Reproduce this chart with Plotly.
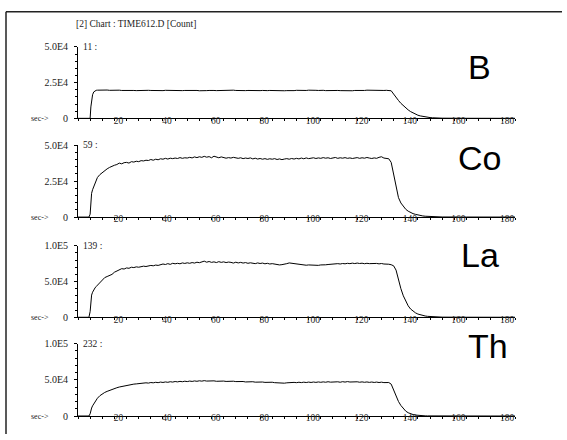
import plotly.graph_objects as go

# ---- data ----
time_s = [0, 4.5, 5.0, 5.3, 5.6, 6.0, 6.5, 7.0, 7.5,
          8, 9, 10, 11, 12, 13, 14, 15, 16, 17,
          18, 19, 20, 21, 22, 23, 24, 25, 26, 27,
          28, 29, 30, 31, 32, 33, 34, 35, 36, 37,
          38, 39, 40, 41, 42, 43, 44, 45, 46, 47,
          48, 49, 50, 51, 52, 53, 54, 55, 56, 57,
          58, 59, 60, 61, 62, 63, 64, 65, 66, 67,
          68, 69, 70, 71, 72, 73, 74, 75, 76, 77,
          78, 79, 80, 81, 82, 83, 84, 85, 86, 87,
          88, 89, 90, 91, 92, 93, 94, 95, 96, 97,
          98, 99, 100, 101, 102, 103, 104, 105, 106, 107,
          108, 109, 110, 111, 112, 113, 114, 115, 116, 117,
          118, 119, 120, 121, 122, 123, 124, 125, 126, 127,
          128, 129, 130, 131, 132, 133, 134, 135, 136, 137,
          138, 139, 140, 141, 142, 143, 144, 145, 146, 147,
          148, 149, 150,
          160, 170, 180]

B_counts = [0, 0, 0, 8000, 13000, 16500, 18500, 19300, 19600,
            19700, 19800, 19900, 19700, 19800, 19600, 19700, 19500, 19600, 19700,
            19500, 19600, 19500, 19400, 19600, 19500, 19400, 19500, 19600, 19400,
            19500, 19600, 19500, 19400, 19500, 19600, 19500, 19400, 19600, 19500,
            19700, 19500, 19400, 19600, 19500, 19400, 19500, 19600, 19400, 19500,
            19600, 19500, 19300, 19500, 19600, 19400, 19500, 19700, 19500, 19400,
            19500, 19600, 19400, 19500, 19600, 19500, 19700, 19500, 19400, 19500,
            19600, 19400, 19500, 19400, 19600, 19500, 19300, 19400, 19500, 19300,
            19400, 19500, 19400, 19300, 19500, 19400, 19200, 19300, 19400, 19300,
            19500, 19400, 19600, 19500, 19400, 19600, 19500, 19700, 19500, 19400,
            19600, 19500, 19700, 19600, 19400, 19500, 19600, 19800, 19600, 19500,
            19400, 19300, 19200, 19300, 19400, 19300, 19500, 19400, 19500, 19600,
            19500, 19700, 19600, 19800, 19600, 19500, 19700, 19600, 19500, 19600,
            19500, 19300, 17000, 14500, 12500, 10500, 8800, 7200, 5900, 4700,
            3700, 2900, 2200, 1700, 1300, 1000, 750, 550, 400, 300,
            220, 160, 120,
            40, 20, 10]

Co_counts = [0, 0, 2000, 13000, 16500, 19000, 21500, 24000, 26000,
             27500, 29500, 31000, 32500, 33500, 34500, 35500, 36000, 36500, 37500,
             37000, 37800, 38000, 37500, 38500, 38200, 38800, 38500, 39200, 39000,
             39500, 39300, 40000, 39500, 40200, 39800, 40500, 40200, 40800, 40300,
             40900, 40600, 41000, 40700, 41300, 40800, 41200, 41000, 41500, 41100,
             41800, 41300, 41900, 41500, 42200, 41600, 42000, 41200, 42300, 41600,
             41200, 41800, 41400, 40900, 41300, 41000, 41500, 41100, 40800, 41200,
             40600, 41000, 40700, 41100, 40400, 40900, 40300, 40700, 40200, 40600,
             40100, 40500, 40200, 40600, 40000, 40400, 39900, 40300, 40600, 40200,
             40700, 40300, 40800, 40400, 41000, 40500, 41100, 40600, 40900, 41200,
             40700, 41100, 40800, 41300, 40900, 41200, 40700, 41100, 41400, 40800,
             41200, 40900, 41300, 40800, 41100, 40700, 41000, 41300, 40800, 41200,
             40900, 41400, 41000, 40700, 41100, 40800, 41500, 41900, 41000, 40800,
             40500, 38000, 29000, 21000, 13500, 9800, 7200, 5400, 4100, 3100,
             2400, 1900, 1400, 1050, 800, 600, 450, 340, 260, 200,
             150, 110, 80,
             30, 15, 10]

La_counts = [0, 0, 8000, 26000, 31000, 35000, 38500, 41000, 43000,
             45000, 49000, 53000, 55500, 57000, 58000, 60000, 63000, 65000, 66500,
             68000, 67500, 69000, 68500, 70000, 69500, 70500, 70000, 71000, 71500,
             71000, 72000, 72500, 72000, 73000, 72500, 73500, 74500, 73800, 75000,
             74000, 75500, 74800, 75500, 74800, 76000, 75300, 76200, 75500, 76500,
             75800, 77000, 76300, 77500, 78500, 77000, 78000, 76800, 77500, 76500,
             77800, 76800, 77500, 76500, 77200, 76800, 75800, 77000, 76000, 76800,
             75800, 76500, 75500, 76200, 75800, 75000, 76000, 75200, 75800, 74800,
             75500, 74500, 75000, 74200, 73500, 73200, 73600, 74000, 75000, 76000,
             75500, 75000, 74500, 74000, 73500, 73200, 72800, 73200, 72800, 72500,
             73000, 72600, 73200, 72800, 73400, 73800, 74300, 74800, 74300, 75000,
             74500, 75200, 74800, 75500, 75000, 75700, 75100, 75800, 75200, 75600,
             74900, 75500, 75000, 75400, 74800, 75300, 74700, 75200, 74500, 74800,
             74200, 73500, 72000, 66000, 52000, 40000, 30000, 22000, 16000, 11500,
             8500, 6200, 4500, 3300, 2400, 1800, 1300, 950, 700, 500,
             380, 280, 200,
             60, 30, 20]

Th_counts = [0, 0, 3000, 8000, 11000, 14000, 17000, 20000, 22500,
             24500, 28000, 30500, 32500, 34000, 35500, 36800, 38000, 39000, 40000,
             40800, 41500, 42200, 43000, 43500, 44000, 44300, 44800, 45200, 45000,
             45800, 45400, 46200, 45800, 46500, 46000, 46800, 46300, 47000, 46500,
             47300, 46800, 47600, 47100, 47800, 47300, 48000, 47500, 48200, 47700,
             48400, 47900, 48600, 48100, 48800, 48200, 48600, 48000, 48500, 47900,
             48300, 47800, 48200, 47700, 48100, 47600, 48000, 47500, 47800, 47200,
             47600, 47000, 47400, 46900, 47300, 46700, 47100, 46500, 46900, 46400,
             46800, 46200, 46600, 46000, 45600, 45200, 45700, 45300, 45800, 46300,
             45900, 46400, 46000, 46600, 46100, 46700, 46200, 46800, 46300, 46900,
             46400, 47000, 46500, 47100, 46600, 47300, 46700, 47000, 46400, 47200,
             46600, 47400, 46800, 47500, 46900, 47300, 46700, 47200, 46600, 47100,
             46500, 47000, 46400, 46900, 46300, 46800, 46200, 46700, 46100, 46500,
             46200, 44000, 36000, 27000, 20000, 14500, 10000, 6700, 4500, 3000,
             2000, 1300, 850, 550, 350, 220, 140, 90, 60, 40,
             30, 20, 15,
             5, 0, 0]

elements = ["B", "Co", "La", "Th"]
masses = ["11 :", "59 :", "139 :", "232 :"]
y_max = [50000, 50000, 100000, 100000]
y_ticktext = [["0", "2.5E4", "5.0E4"], ["0", "2.5E4", "5.0E4"],
              ["0", "5.0E4", "1.0E5"], ["0", "5.0E4", "1.0E5"]]
x_tickvals = [20, 40, 60, 80, 100, 120, 140, 160, 180]
x_ticktext = ["20", "40", "60", "80", "100", "120", "140", "160", "180"]
title_text = "[2] Chart : TIME612.D [Count]"
series = [B_counts, Co_counts, La_counts, Th_counts]

# ---- layout geometry ----
W, H = 567, 440
def px(x):
    return x / W
def py(y):
    return 1 - y / H

x_dom = [px(78), px(515)]
panel_px = [(42, 115.5), (143, 217), (246.5, 320), (347, 421.5)]
elem_pos = [(479, 63), (479, 156), (480, 256), (488, 350)]

SERIF = "Liberation Serif"
TXT = "#222222"

fig = go.Figure()
layout = dict(
    width=W, height=H,
    margin=dict(l=0, r=0, t=0, b=0),
    paper_bgcolor="white", plot_bgcolor="white",
    showlegend=False,
    annotations=[], shapes=[],
)

for i in range(4):
    n = "" if i == 0 else str(i + 1)
    fig.add_trace(go.Scatter(
        x=time_s, y=series[i], mode="lines",
        line=dict(color="black", width=1),
        xaxis="x" + n, yaxis="y" + n, hoverinfo="skip",
    ))
    top, bot = panel_px[i]
    layout["xaxis" + n] = dict(
        domain=x_dom, range=[0, 180], anchor="y" + n,
        showline=True, linecolor="black", linewidth=1,
        showgrid=False, zeroline=False,
        tickmode="array", tickvals=x_tickvals, ticktext=x_ticktext,
        ticks="outside", ticklen=2, tickcolor="black",
        minor=dict(tick0=0, dtick=5, ticks="outside", ticklen=2, tickcolor="black"),
        tickfont=dict(family=SERIF, size=9.5, color=TXT),
        ticklabelshift=-8, ticklabelstandoff=-9,
        fixedrange=True,
    )
    layout["yaxis" + n] = dict(
        domain=[py(bot), py(top)], range=[0, y_max[i]], anchor="x" + n,
        showline=True, linecolor="black", linewidth=1,
        showgrid=False, zeroline=False,
        tickmode="array", tickvals=[0, y_max[i] / 2, y_max[i]], ticktext=y_ticktext[i],
        ticks="outside", ticklen=3, tickcolor="black",
        minor=dict(tick0=0, dtick=y_max[i] / 10, ticks="outside", ticklen=2, tickcolor="black"),
        tickfont=dict(family=SERIF, size=10, color=TXT),
        ticklabelstandoff=4,
        fixedrange=True,
    )
    layout["annotations"].append(dict(
        text=masses[i], x=px(81), y=py(top), xref="paper", yref="paper",
        xanchor="left", yanchor="middle", showarrow=False,
        font=dict(family=SERIF, size=9.5, color=TXT)))
    layout["annotations"].append(dict(
        text="sec->", x=px(51), y=py(bot), xref="paper", yref="paper",
        xanchor="right", yanchor="middle", showarrow=False,
        font=dict(family=SERIF, size=8, color=TXT)))
    ex, ey = elem_pos[i]
    layout["annotations"].append(dict(
        text=elements[i], x=px(ex), y=py(ey), xref="paper", yref="paper",
        xanchor="center", yanchor="middle", showarrow=False,
        font=dict(family="Liberation Sans", size=34, color="black")))

layout["annotations"].append(dict(
    text=title_text, x=px(135.5), y=py(19), xref="paper", yref="paper",
    xanchor="center", yanchor="middle", showarrow=False,
    font=dict(family=SERIF, size=9.5, color=TXT)))

layout["shapes"] = [
    dict(type="line", xref="paper", yref="paper", x0=px(6), x1=px(562), y0=py(6), y1=py(6),
         line=dict(color="#222222", width=1.5)),
    dict(type="line", xref="paper", yref="paper", x0=px(6), x1=px(6), y0=py(6), y1=py(440),
         line=dict(color="#222222", width=1.5)),
]

fig.update_layout(**layout)
fig.write_html("out.html", config={"displayModeBar": False, "staticPlot": True},
               post_script="document.body.style.margin='0';")
